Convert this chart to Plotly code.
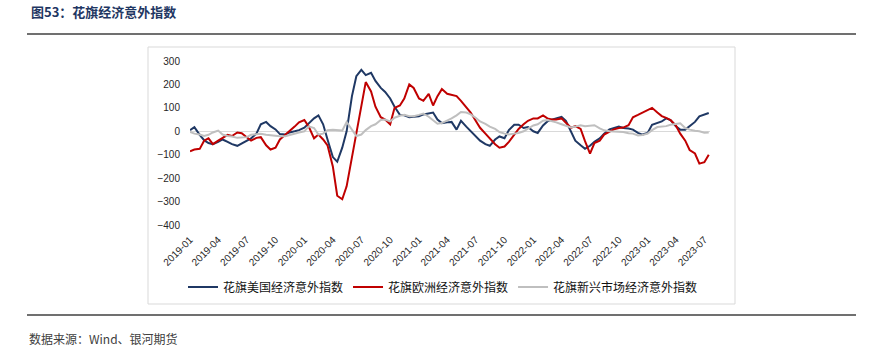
import plotly.graph_objects as go
import pandas as pd

# semi-monthly observation dates, 2019-01 .. 2023-07
dates = pd.date_range("2019-01-01", periods=110, freq="SMS")

us = [5, 18, -15, -38, -50, -55, -45, -35, -45, -55,
      -62, -52, -42, -30, -10, 30, 40, 22, 8, -12,
      -14, -5, 0, 5, 15, 35, 55, 68, 30, -35,
      -110, -130, -70, 0, 150, 235, 262, 240, 250, 215,
      185, 168, 140, 105, 70, 68, 60, 62, 64, 72,
      78, 80, 50, 35, 38, 40, 7, 45, 20, 0,
      -20, -40, -55, -62, -35, -22, -30, 5, 28, 28,
      14, 18, 0, -7, 25, 42, 50, 55, 62, 45,
      0, -40, -60, -75, -62, -45, -30, -10, 8, 14,
      20, 14, 12, 7, -7, -14, -7, 28, 35, 42,
      55, 48, 21, 7, 7, 21, 40, 64, 72, 78]

eu = [-85, -78, -75, -40, -30, -55, -40, -30, -15, -20,
      -5, -8, -25, -40, -28, -25, -60, -78, -70, -35,
      -15, 0, 20, 38, 48, 20, -30, -14, -35, -60,
      -150, -275, -290, -235, -110, -20, 110, 210, 170, 105,
      60, 50, 30, 100, 110, 140, 200, 185, 140, 130,
      160, 110, 150, 180, 160, 155, 150, 130, 105, 80,
      45, 15, -10, -30, -55, -70, -65, -45, -15, 10,
      30, 45, 55, 55, 68, 55, 50, 50, 55, 35,
      15, 22, 10, -42, -95, -50, -40, -14, 0, 8,
      14, 16, 26, 60, 70, 80, 92, 100, 80, 65,
      57, 48, 25, -10, -40, -80, -95, -138, -132, -100]

em = [-3, -10, -14, -20, -15, -5, 3, -14, -20, -22,
      -28, -26, -25, -15, -12, -11, -15, -17, -20, -21,
      -21, -15, -11, -5, 0, 21, 14, -14, -10, 5,
      7, 5, 3, 40, 5, -20, -14, 5, 22, 30,
      48, 50, 42, 58, 66, 70, 64, 64, 70, 76,
      62, 48, 32, 35, 45, 55, 68, 82, 80, 72,
      58, 42, 32, 20, 10, -3, -10, -14, -10, -7,
      0, 10, 25, 30, 45, 48, 44, 38, 30, 24,
      16, 20, 26, 22, 24, 26, 12, 4, 0, 0,
      -2, -3, -8, -10, -18, -16, -10, 5, 18, 20,
      22, 28, 32, 34, 14, 7, 2, 0, -6, -5]

names = ["花旗美国经济意外指数", "花旗欧洲经济意外指数", "花旗新兴市场经济意外指数"]
colors = ["#1F3864", "#C00000", "#BFBFBF"]

tick_dates = pd.date_range("2019-01-01", "2023-07-01", freq="QS")
tick_text = [d.strftime("%Y-%m") for d in tick_dates]
y_ticks = [-400, -300, -200, -100, 0, 100, 200, 300]

W, H = 873, 349
L, R, T, B = 190, 163, 61, 124
pw, ph = W - L - R, H - T - B


def px(x):
    return (x - L) / pw


def py(y):
    return 1 - (y - T) / ph


fig = go.Figure()
for name, vals, col in zip(names, [us, eu, em], colors):
    fig.add_trace(go.Scatter(x=dates, y=vals, mode="lines", name=name,
                             line=dict(color=col, width=2)))

fig.update_layout(
    width=W, height=H,
    margin=dict(l=L, r=R, t=T, b=B, pad=0),
    paper_bgcolor="white", plot_bgcolor="white",
    font=dict(family="Liberation Sans, Arial, sans-serif", size=10, color="#262626"),
    showlegend=True,
    legend=dict(orientation="h", x=px(443), y=py(287), xanchor="center", yanchor="middle",
                font=dict(family="Noto Sans CJK SC", size=12, color="#111111"),
                bgcolor="rgba(0,0,0,0)", itemwidth=30),
)
fig.update_xaxes(range=["2019-01-01", "2023-07-19"], tickvals=tick_dates, ticktext=tick_text,
                 tickangle=-45, showgrid=False, zeroline=False, showline=False, ticks="",
                 ticklabelstandoff=6, tickfont=dict(size=10, color="#262626"))
fig.update_yaxes(range=[-400, 300], tickvals=y_ticks, showgrid=False, zeroline=True,
                 zerolinecolor="#D9D9D9", zerolinewidth=1, showline=False, ticks="",
                 ticklabelstandoff=9, tickfont=dict(size=10, color="#262626"))

shapes = [
    dict(type="rect", xref="paper", yref="paper", x0=px(148), x1=px(735), y0=py(304), y1=py(47),
         line=dict(color="#D9D9D9", width=1), layer="below"),
    dict(type="line", xref="paper", yref="paper", x0=px(27), x1=px(856), y0=py(34), y1=py(34),
         line=dict(color="#404040", width=1.5)),
    dict(type="line", xref="paper", yref="paper", x0=px(27), x1=px(856), y0=py(315), y1=py(315),
         line=dict(color="#404040", width=1.5)),
]
fig.update_layout(shapes=shapes)

fig.add_annotation(text="<b>图53：花旗经济意外指数</b>", xref="paper", yref="paper",
                   x=px(29), y=py(12), xanchor="left", yanchor="middle", showarrow=False,
                   font=dict(family="Noto Sans CJK SC", size=13, color="#1F3763"))
fig.add_annotation(text="数据来源：Wind、银河期货", xref="paper", yref="paper",
                   x=px(27), y=py(338), xanchor="left", yanchor="middle", showarrow=False,
                   font=dict(family="Noto Sans CJK SC", size=12, color="#404040"))

fig.write_html("out.html")
